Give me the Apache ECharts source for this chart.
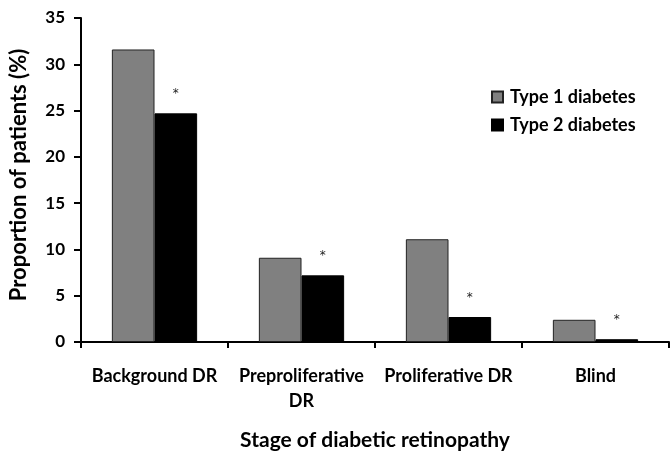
<!DOCTYPE html>
<html><head><meta charset="utf-8">
<script src="https://cdn.jsdelivr.net/npm/echarts@6/dist/echarts.min.js"></script>
<style>html,body{margin:0;padding:0;background:#fff}#c{width:670px;height:456px}</style>
</head><body><div id="c"></div>
<script>
var categories = ['Background DR', 'Preproliferative\nDR', 'Proliferative DR', 'Blind'];
var type1 = [31.6, 9.1, 11.1, 2.4];
var type2 = [24.7, 7.2, 2.7, 0.3];
var yTicks = [0, 5, 10, 15, 20, 25, 30, 35];
var seriesNames = ['Type 1 diabetes', 'Type 2 diabetes'];
var FONT = 'Lato';
var chart = echarts.init(document.getElementById('c'), null, {renderer: 'canvas'});
chart.setOption({
  animation: false,
  backgroundColor: '#fff',
  textStyle: {fontFamily: FONT},
  grid: {left: 80, right: 1, top: 18, bottom: 103, containLabel: false},
  legend: {
    orient: 'vertical', left: 486, top: 83, icon: 'rect', itemWidth: 11, itemHeight: 11, itemGap: 10,
    textStyle: {fontFamily: FONT, fontWeight: 'bold', fontSize: 18, color: '#000', padding: [0,0,0,2]},
    data: seriesNames
  },
  xAxis: {
    type: 'category', data: categories,
    name: 'Stage of diabetic retinopathy', nameLocation: 'middle', nameGap: 88,
    nameTextStyle: {fontFamily: FONT, fontWeight: 'bold', fontSize: 21, color: '#000'},
    axisLine: {lineStyle: {color: '#000', width: 2}},
    axisTick: {show: true, length: 6, lineStyle: {color: '#000', width: 2}},
    axisLabel: {fontFamily: FONT, fontWeight: 'bold', fontSize: 18, color: '#000', margin: 22, lineHeight: 25, interval: 0}
  },
  yAxis: {
    type: 'value', min: 0, max: 35, interval: 5,
    name: 'Proportion of patients (%)', nameLocation: 'middle', nameGap: 51,
    nameTextStyle: {fontFamily: FONT, fontWeight: 'bold', fontSize: 22, color: '#000', padding: [0,0,0,10]},
    axisLine: {show: true, lineStyle: {color: '#000', width: 2}},
    axisTick: {show: true, inside: false, length: 7, lineStyle: {color: '#000', width: 2}},
    axisLabel: {fontFamily: FONT, fontWeight: 'bold', fontSize: 17, color: '#000', margin: 16,
      formatter: function(v){ return yTicks.indexOf(v) >= 0 ? String(v) : ''; }},
    splitLine: {show: false}
  },
  series: [
    {name: seriesNames[0], type: 'bar', data: type1, barGap: '0%', barCategoryGap: '42%',
      itemStyle: {color: '#808080', borderColor: '#222', borderWidth: 1}},
    {name: seriesNames[1], type: 'bar', data: type2,
      itemStyle: {color: '#000', borderColor: '#000', borderWidth: 1},
      label: {show: true, position: 'top', distance: 13, formatter: '*', fontSize: 12, color: '#222', fontFamily: 'DejaVu Sans'}}
  ]
});
</script></body></html>
